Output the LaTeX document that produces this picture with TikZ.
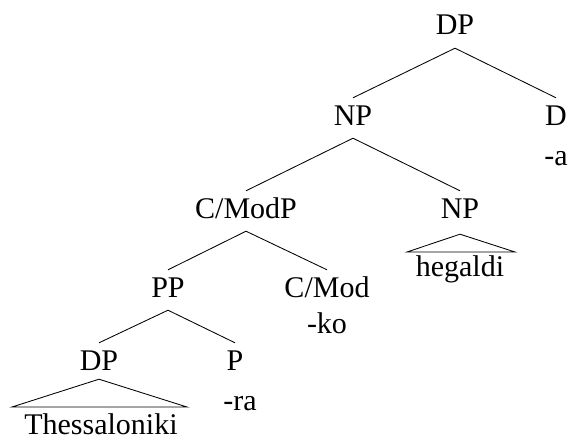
\documentclass[tikz,border=0pt]{standalone}
\usepackage{fontspec}
\setmainfont{Liberation Serif}
\begin{document}
\begin{tikzpicture}[x=1pt,y=-1pt,
  lab/.style={font=\fontsize{30}{35}\selectfont, anchor=base, inner sep=0pt},
  cat/.style={lab, text height=20pt, text depth=6pt, inner ysep=7pt},
  branch/.style={line width=0.85pt}]
\useasboundingbox (0,0) rectangle (570,436);

% category labels and the morphemes under them
\node[cat] (dp)    at (455,35)  {DP};
\node[cat] (np)    at (353,125) {NP};
\node[cat] (d)     at (556,125) {D};
\node[lab] (a)     at (556,165) {-a};
\node[cat] (cmodp) at (246,218) {C/ModP};
\node[cat] (np2)   at (460,218) {NP};
\node[lab] (heg)   at (460,276) {hegaldi};
\node[cat] (pp)    at (168,297) {PP};
\node[cat] (cmod)  at (327,297) {C/Mod};
\node[lab] (ko)    at (327,333) {-ko};
\node[cat] (dp2)   at (99,370)  {DP};
\node[cat] (p)     at (235,370) {P};
\node[lab] (ra)    at (240,410) {-ra};
\node[lab] (thes)  at (101,434) {Thessaloniki};

% base corners of the two roof triangles
\coordinate (hl) at (407,252);
\coordinate (hr) at (515,252);
\coordinate (tl) at (12,407);
\coordinate (tr) at (187,407);

% branches
\draw[branch] (dp.south) -- (np.north);
\draw[branch] (dp.south) -- (d.north);
\draw[branch] (np.south) -- (cmodp.north);
\draw[branch] (np.south) -- (np2.north);
\draw[branch] (cmodp.south) -- (pp.north);
\draw[branch] (cmodp.south) -- (cmod.north);
\draw[branch] (pp.south) -- (dp2.north);
\draw[branch] (pp.south) -- (p.north);

% roofs over unanalysed constituents
\draw[branch] ([yshift=-3pt]np2.south) -- (hl) -- (hr) -- cycle;
\draw[branch] ([yshift=4pt]dp2.south) -- (tl) -- (tr) -- cycle;
\end{tikzpicture}
\end{document}
